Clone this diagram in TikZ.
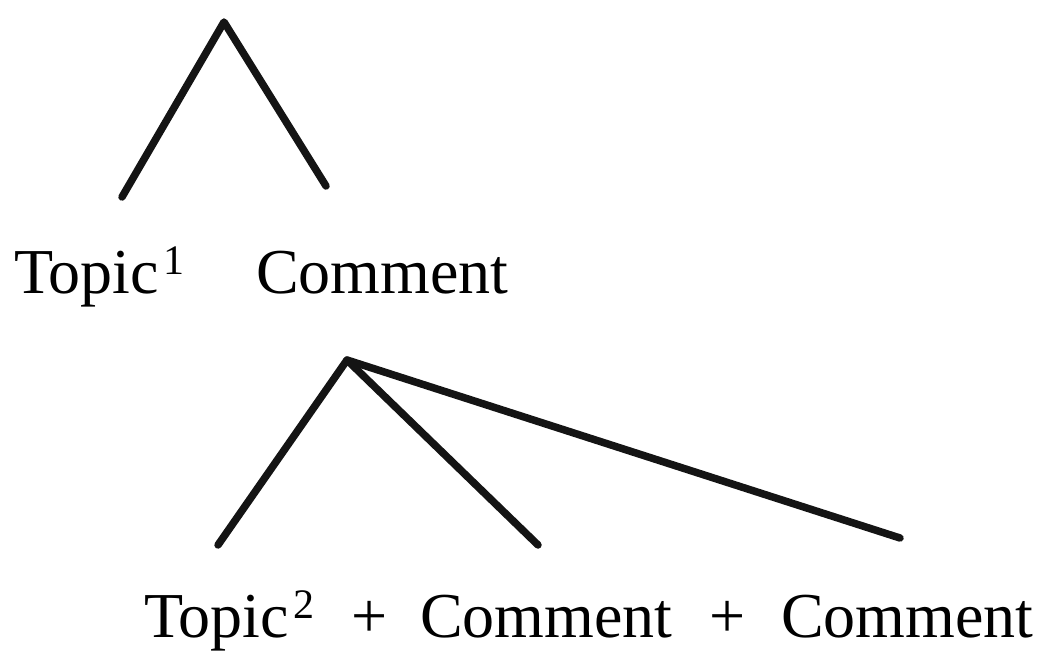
\documentclass[tikz,border=0pt]{standalone}
\usepackage{fontspec}
\setmainfont{Liberation Serif}
\newcommand{\supnum}[1]{\kern4pt\raisebox{19pt}{\fontsize{42}{42}\selectfont #1}}
\begin{document}
\begin{tikzpicture}[x=1pt,y=1pt,
  branch/.style={line width=7.5pt,line cap=round,line join=round,black!92},
  word/.style={inner sep=0pt,anchor=base west,font=\fontsize{64}{70}\selectfont},
  plus/.style={inner sep=0pt,anchor=base,font=\fontsize{64}{70}\selectfont}]
\useasboundingbox (0,0) rectangle (1041,654);
% tree 1
\coordinate (a1) at (224,632);
\coordinate (l1) at (122,457);
\coordinate (r1) at (326,468);
\draw[branch] (l1) -- (a1) -- (r1);
\node[word] (t1) at (14,360) {Topic\supnum{1}};
\node[word] (c1) at (256,360) {Comment};
% tree 2
\coordinate (a2) at (347,294);
\coordinate (l2) at (218,109);
\coordinate (m2) at (538,109);
\coordinate (r2) at (900,116);
\draw[branch] (l2) -- (a2) -- (m2);
\draw[branch] (a2) -- (r2);
\node[word] (t2) at (144,17) {Topic\supnum{2}};
\node[plus] (p1) at (370,17) {+};
\node[word] (c2) at (420,17) {Comment};
\node[plus] (p2) at (728,17) {+};
\node[word] (c3) at (781,17) {Comment};
\end{tikzpicture}
\end{document}
